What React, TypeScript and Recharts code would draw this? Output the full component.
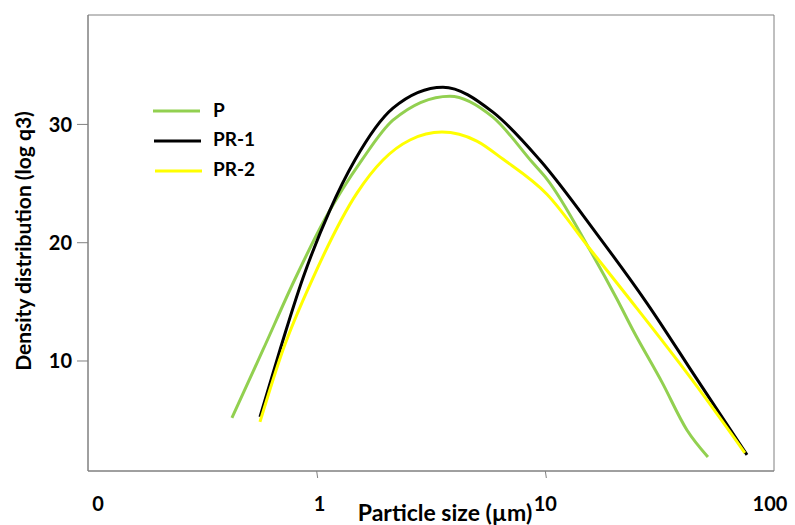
import React from 'react';
import {
  LineChart,
  Line,
  XAxis,
  YAxis,
  Label,
  ReferenceArea,
} from 'recharts';

// particle size (µm) and density values, per series
const pSize = [0.426, 0.582, 0.804, 1.087, 1.578, 2.156, 3.825, 5.9, 8.83, 10.16, 15.67, 20.56, 24.15, 32.4, 41.6, 51.4];
const pDensity = [5.19, 10.93, 16.93, 22.0, 27.0, 30.36, 32.39, 30.61, 26.73, 25.38, 19.38, 15.24, 12.62, 8.19, 4.17, 1.89];

const pr1Size = [0.565, 0.691, 0.871, 1.143, 1.47, 2.156, 3.566, 5.9, 9.46, 16.81, 27.8, 46.1, 76.2];
const pr1Density = [5.27, 10.93, 17.01, 22.76, 26.99, 31.38, 33.15, 31.04, 26.99, 20.73, 14.9, 8.44, 2.06];

const pr2Size = [0.565, 0.712, 0.963, 1.5, 1.95, 2.559, 3.531, 5.016, 6.52, 10.16, 15.67, 22.98, 43.7, 74.6];
const pr2Density = [4.85, 10.93, 17.01, 24.19, 26.99, 28.68, 29.35, 28.59, 27.07, 24.1, 19.47, 15.41, 8.44, 2.23];

const xTicks = [0.1, 1, 10, 100];
const xTickLabels = ['0', '1', '10', '100'];
const yTicks = [10, 20, 30];

const SERIES = [
  { name: 'P', color: '#92D050', data: pSize.map((x, i) => ({ x, y: pDensity[i] })) },
  { name: 'PR-1', color: '#000000', data: pr1Size.map((x, i) => ({ x, y: pr1Density[i] })) },
  { name: 'PR-2', color: '#FFFF00', data: pr2Size.map((x, i) => ({ x, y: pr2Density[i] })) },
];

const FONT = 'Lato, "Open Sans", sans-serif';
const AXIS_GREY = '#808080';
const labelShift: Record<string, number> = { '0': 10, '1': 3, '10': 0, '100': -4 };

function XTick(props: any) {
  const { x, y, payload } = props;
  const idx = xTicks.indexOf(payload.value);
  const text = xTickLabels[idx] ?? String(payload.value);
  const inner = text === '1' || text === '10';
  return (
    <g>
      {inner && <line x1={x} y1={y} x2={x + 1} y2={y + 7} stroke={AXIS_GREY} strokeWidth={1} />}
      <text
        x={x + (labelShift[text] ?? 0)}
        y={y + 33}
        dy="0.35em"
        textAnchor="middle"
        fontFamily={FONT}
        fontWeight={700}
        fontSize={20}
        fill="#000"
      >
        {text}
      </text>
    </g>
  );
}

function LegendBox() {
  return (
    <svg width={130} height={90} style={{ position: 'absolute', left: 150, top: 95 }}>
      {SERIES.map((s, i) => (
        <g key={s.name}>
          <line x1={3 + i} x2={50 + i} y1={16 + i * 30} y2={16 + i * 30} stroke={s.color} strokeWidth={3} />
          <text
            x={63}
            y={15 + i * 29.5}
            dy="0.35em"
            fontFamily={FONT}
            fontWeight={700}
            fontSize={19}
            fill="#000"
          >
            {s.name}
          </text>
        </g>
      ))}
    </svg>
  );
}

export default function App() {
  return (
    <div style={{ position: 'absolute', left: 0, top: 0, width: 795, height: 525, background: '#fff' }}>
      <LineChart width={795} height={525} margin={{ top: 15, right: 21, left: 0, bottom: 0 }}>
        <XAxis
          type="number"
          dataKey="x"
          scale="log"
          domain={[0.1, 100]}
          ticks={xTicks}
          allowDataOverflow
          height={54}
          stroke={AXIS_GREY}
          tickLine={false}
          tickSize={0}
          tickMargin={0}
          tick={<XTick />}
          interval={0}
        >
          <Label
            content={(p: any) => {
              const vb = p.viewBox;
              return (
                <text
                  x={vb.x + vb.width / 2 + 14}
                  y={vb.y + 42}
                  dy="0.35em"
                  textAnchor="middle"
                  fontFamily={FONT}
                  fontWeight={700}
                  fontSize={23}
                  fill="#000"
                >
                  Particle size (µm)
                </text>
              );
            }}
          />
        </XAxis>
        <YAxis
          type="number"
          domain={[0.7, 39.25]}
          ticks={yTicks}
          allowDataOverflow
          width={88}
          stroke={AXIS_GREY}
          tickSize={11}
          tickMargin={5}
          tick={{ fill: '#000', fontFamily: FONT, fontWeight: 700, fontSize: 20 }}
        >
          <Label
            content={(p: any) => {
              const vb = p.viewBox;
              const cx = vb.x + 24;
              const cy = vb.y + vb.height / 2 - 2;
              return (
                <text
                  x={cx}
                  y={cy}
                  dy="0.35em"
                  textAnchor="middle"
                  transform={`rotate(-90 ${cx} ${cy})`}
                  fontFamily={FONT}
                  fontWeight={700}
                  fontSize={21}
                  fill="#000"
                >
                  Density distribution (log q3)
                </text>
              );
            }}
          />
        </YAxis>
        <ReferenceArea x1={0.1} x2={100} y1={0.7} y2={39.25} fill="none" stroke={AXIS_GREY} strokeWidth={1} />
        {SERIES.map((s) => (
          <Line
            key={s.name}
            data={s.data}
            dataKey="y"
            name={s.name}
            type="monotone"
            stroke={s.color}
            strokeWidth={3}
            dot={false}
            activeDot={false}
            isAnimationActive={false}
          />
        ))}
      </LineChart>
      <LegendBox />
    </div>
  );
}
